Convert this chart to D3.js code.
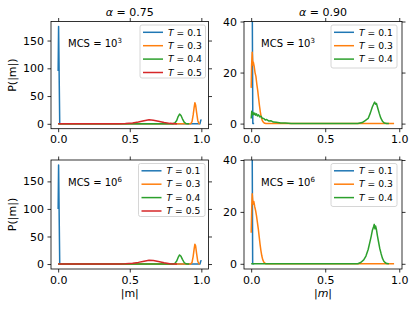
<!DOCTYPE html>
<html>
<head>
<meta charset="utf-8">
<script src="https://cdn.jsdelivr.net/npm/d3@7"></script>
<style>
  body { margin: 0; background: #fff; }
  svg { font-family: "DejaVu Sans", sans-serif; }
  .tick text { font-size: 11px; fill: #000; }
  .tick line { stroke: #000; stroke-width: 0.8; }
</style>
</head>
<body>
<div id="chart"></div>
<script>
// histogram curves P(|m|) as [|m|, P] points
// alpha = 0.75, MCS = 10^3
var a75m3T01 = [[0,95],[0.003,175.5],[0.011,0],[0.99,0],[0.997,7],[1.0,6]];
var a75m3T03 = [[0,0],[0.925,0],[0.935,4],[0.943,16],[0.95,30],[0.955,38],[0.96,34],[0.967,20],[0.975,6],[0.983,0.5],[0.99,0]];
var a75m3T04 = [[0,0],[0.8,0],[0.815,1.5],[0.828,6],[0.838,13],[0.848,17.5],[0.858,15],[0.868,9],[0.88,3],[0.892,0.5],[0.905,0],[0.915,0]];
var a75m3T05 = [[0,0],[0.42,0],[0.47,0.5],[0.52,1.5],[0.56,3.2],[0.6,5.5],[0.635,7.3],[0.665,6.6],[0.7,4.8],[0.74,2.4],[0.78,0.8],[0.82,0.1],[0.83,0]];
// alpha = 0.75, MCS = 10^6
var a75m6T01 = [[0,100],[0.003,179.8],[0.011,0],[0.99,0],[0.997,6],[1.0,5]];
var a75m6T03 = [[0,0],[0.925,0],[0.935,3],[0.943,14],[0.95,28],[0.955,36],[0.96,33],[0.967,19],[0.975,5],[0.983,0.5],[0.99,0]];
var a75m6T04 = [[0,0],[0.8,0],[0.815,1.2],[0.828,5.5],[0.838,12],[0.848,16.5],[0.858,14],[0.868,8.5],[0.88,2.8],[0.892,0.5],[0.905,0],[0.915,0]];
var a75m6T05 = [[0,0],[0.42,0],[0.47,0.4],[0.52,1.4],[0.56,3],[0.6,5.2],[0.635,7],[0.665,6.4],[0.7,4.6],[0.74,2.3],[0.78,0.7],[0.82,0.1],[0.83,0]];
// alpha = 0.90, MCS = 10^3
var a90m3T01 = [[0,110],[0.002,112],[0.011,0],[0.02,0]];
var a90m3T03 = [[0,14],[0.003,23],[0.007,28],[0.011,23],[0.015,24],[0.02,22.5],[0.026,20],[0.032,18.5],[0.038,15.5],[0.044,13],[0.05,10],[0.056,7],[0.062,4.5],[0.068,2.5],[0.075,1.2],[0.083,0.5],[0.092,0.1],[0.1,0],[0.965,0]];
var a90m3T04 = [[0,2],[0.004,4.8],[0.008,3.6],[0.013,4.3],[0.018,3.5],[0.024,4.1],[0.03,3.3],[0.036,3.8],[0.042,3.0],[0.05,3.4],[0.058,2.6],[0.066,2.9],[0.075,2.1],[0.085,2.0],[0.095,1.4],[0.105,1.6],[0.12,1.0],[0.135,1.1],[0.15,0.6],[0.17,0.5],[0.2,0.25],[0.23,0.2],[0.27,0.05],[0.3,0],[0.72,0],[0.75,0.4],[0.77,1.2],[0.79,2],[0.805,4.2],[0.818,6.5],[0.828,7.8],[0.834,8.4],[0.84,7.6],[0.846,7.9],[0.855,6],[0.865,4],[0.875,2.2],[0.888,0.8],[0.9,0.2],[0.915,0],[0.93,0]];
// alpha = 0.90, MCS = 10^6
var a90m6T01 = [[0,110],[0.002,112],[0.01,0],[0.02,0]];
var a90m6T03 = [[0,12],[0.004,22],[0.007,27],[0.011,24],[0.015,23],[0.018,24],[0.024,22],[0.03,20.5],[0.036,18.5],[0.042,16],[0.048,13.5],[0.054,10.5],[0.06,7.5],[0.066,5],[0.072,3],[0.078,1.6],[0.085,0.7],[0.093,0.2],[0.1,0],[0.965,0]];
var a90m6T04 = [[0,0],[0.72,0],[0.74,0.5],[0.76,1.5],[0.775,3],[0.79,5.5],[0.8,8],[0.81,10.5],[0.818,12.8],[0.826,14.2],[0.831,15.2],[0.836,13.5],[0.84,14.6],[0.846,13.2],[0.852,11],[0.86,8.5],[0.868,6],[0.877,4],[0.886,2.2],[0.896,1],[0.906,0.4],[0.916,0.1],[0.93,0]];

var tempLabels = ["0.1", "0.3", "0.4", "0.5"];
var colors = ["#1f77b4", "#ff7f0e", "#2ca02c", "#d62728"];
var xTicks = [0, 0.5, 1.0];
var yTicksLeft = [0, 50, 100, 150];
var yTicksRight = [0, 20, 40];
var alphaTitles = ["0.75", "0.90"];

var width = 415, height = 310;
var svg = d3.select("#chart").append("svg").attr("width", width).attr("height", height);

// panel boxes
var panels = [
  { id: "tl", x: 51, y: 21.5, w: 157.5, h: 107.2, xd: [-0.05, 1.05], yd: [-8.8, 184.3], yt: yTicksLeft,
    series: [a75m3T01, a75m3T03, a75m3T04, a75m3T05], mcs: "3", title: alphaTitles[0], ylabel: true, xlabel: null,
    leg: { x: 140, y: 25, w: 65.5, h: 53 } },
  { id: "tr", x: 244, y: 21.5, w: 158, h: 107.2, xd: [-0.0485, 1.0185], yd: [-2, 40], yt: yTicksRight,
    series: [a90m3T01, a90m3T03, a90m3T04], mcs: "3", title: alphaTitles[1], ylabel: false, xlabel: null,
    leg: { x: 331, y: 25, w: 66, h: 43 } },
  { id: "bl", x: 51, y: 160, w: 157.5, h: 109, xd: [-0.05, 1.05], yd: [-9, 188.8], yt: yTicksLeft,
    series: [a75m6T01, a75m6T03, a75m6T04, a75m6T05], mcs: "6", title: null, ylabel: true, xlabel: "plain",
    leg: { x: 138.5, y: 163.5, w: 66.5, h: 53 } },
  { id: "br", x: 244, y: 160, w: 158, h: 109, xd: [-0.0485, 1.0185], yd: [-2, 40], yt: yTicksRight,
    series: [a90m6T01, a90m6T03, a90m6T04], mcs: "6", title: null, ylabel: false, xlabel: "math",
    leg: { x: 331, y: 163.5, w: 66, h: 43 } }
];

panels.forEach(function(p) {
  var xScale = d3.scaleLinear().domain(p.xd).range([p.x, p.x + p.w]);
  var yScale = d3.scaleLinear().domain(p.yd).range([p.y + p.h, p.y]);

  svg.append("clipPath").attr("id", "clip-" + p.id)
    .append("rect").attr("x", p.x).attr("y", p.y).attr("width", p.w).attr("height", p.h);

  var line = d3.line().x(function(d) { return xScale(d[0]); }).y(function(d) { return yScale(d[1]); });

  // curves
  var g = svg.append("g").attr("clip-path", "url(#clip-" + p.id + ")");
  p.series.forEach(function(s, i) {
    g.append("path").datum(s).attr("d", line)
      .attr("fill", "none").attr("stroke", colors[i]).attr("stroke-width", 1.5)
      .attr("stroke-linejoin", "round");
  });

  // axes, ticks out on all four sides
  var fmt = d3.format(".1f");
  svg.append("g").attr("transform", "translate(0," + (p.y + p.h) + ")")
    .call(d3.axisBottom(xScale).tickValues(xTicks).tickFormat(fmt).tickSize(3.5).tickPadding(3.5))
    .call(function(a) { a.select(".domain").remove(); });
  svg.append("g").attr("transform", "translate(0," + p.y + ")")
    .call(d3.axisTop(xScale).tickValues(xTicks).tickFormat("").tickSize(3.5))
    .call(function(a) { a.select(".domain").remove(); });
  svg.append("g").attr("transform", "translate(" + p.x + ",0)")
    .call(d3.axisLeft(yScale).tickValues(p.yt).tickSize(3.5).tickPadding(3.5))
    .call(function(a) { a.select(".domain").remove(); });
  svg.append("g").attr("transform", "translate(" + (p.x + p.w) + ",0)")
    .call(d3.axisRight(yScale).tickValues(p.yt).tickFormat("").tickSize(3.5))
    .call(function(a) { a.select(".domain").remove(); });
  svg.selectAll(".tick text").attr("font-family", "DejaVu Sans");

  // frame
  svg.append("rect").attr("x", p.x).attr("y", p.y).attr("width", p.w).attr("height", p.h)
    .attr("fill", "none").attr("stroke", "#000").attr("stroke-width", 0.8);

  // MCS annotation
  var mcs = svg.append("text").attr("x", p.x + 0.108 * p.w).attr("y", p.y + 0.235 * p.h)
    .attr("font-size", 10).attr("fill", "#000");
  mcs.append("tspan").text("MCS = 10");
  mcs.append("tspan").attr("dy", -4).attr("font-size", 7).text(p.mcs);

  // title
  if (p.title) {
    var t = svg.append("text").attr("x", p.x + p.w / 2).attr("y", 15.5)
      .attr("text-anchor", "middle").attr("font-size", 11);
    t.append("tspan").attr("font-style", "italic").text("\u03b1");
    t.append("tspan").text(" = " + p.title);
  }

  // y label
  if (p.ylabel) {
    svg.append("text").attr("transform", "translate(16," + (p.y + p.h / 2) + ")rotate(-90)")
      .attr("text-anchor", "middle").attr("font-size", 11).text("P(|m|)");
  }

  // x label
  if (p.xlabel) {
    var xl = svg.append("text").attr("x", p.x + p.w / 2).attr("y", 297)
      .attr("text-anchor", "middle").attr("font-size", 11);
    if (p.xlabel === "plain") {
      xl.text("|m|");
    } else {
      xl.append("tspan").text("|");
      xl.append("tspan").attr("font-style", "italic").text("m");
      xl.append("tspan").text("|");
    }
  }

  // legend
  var lg = svg.append("g");
  lg.append("rect").attr("x", p.leg.x).attr("y", p.leg.y).attr("width", p.leg.w).attr("height", p.leg.h)
    .attr("rx", 2).attr("fill", "#fff").attr("fill-opacity", 0.8)
    .attr("stroke", "#cccccc").attr("stroke-width", 0.8);
  p.series.forEach(function(s, i) {
    var cy = p.leg.y + 7.3 + i * 13.4;
    lg.append("line").attr("x1", p.leg.x + 3).attr("x2", p.leg.x + 23)
      .attr("y1", cy).attr("y2", cy).attr("stroke", colors[i]).attr("stroke-width", 1.5);
    var lt = lg.append("text").attr("x", p.leg.x + 28).attr("y", cy + 3.2).attr("font-size", 9.2);
    lt.append("tspan").attr("font-style", "italic").text("T");
    lt.append("tspan").text(" = " + tempLabels[i]);
  });
});
</script>
</body>
</html>
